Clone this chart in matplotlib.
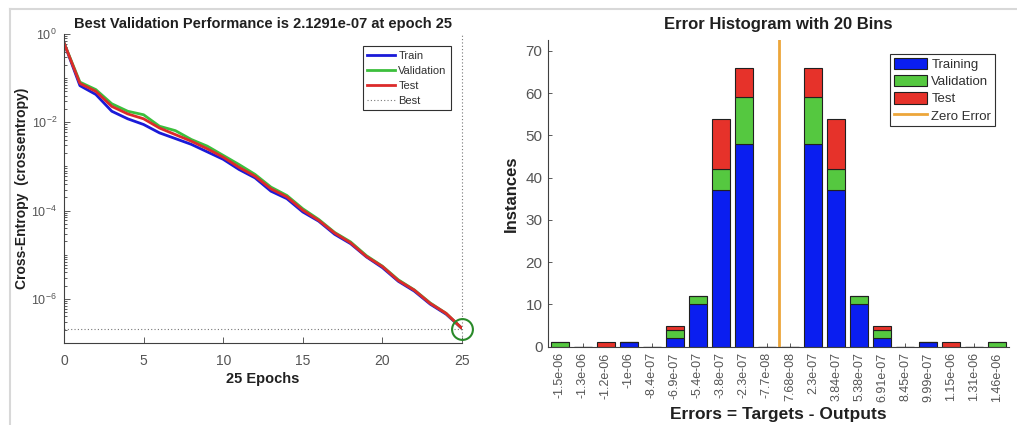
import matplotlib
matplotlib.use("Agg")
import matplotlib.pyplot as plt
import numpy as np
from matplotlib.ticker import LogLocator, NullFormatter
from matplotlib.lines import Line2D
from matplotlib.patches import Patch

plt.rcParams['font.family'] = ['Liberation Sans', 'DejaVu Sans']
plt.rcParams['mathtext.fontset'] = 'custom'
plt.rcParams['mathtext.rm'] = 'Liberation Sans'

# ---------------- data ----------------
epochs = list(range(26))
train_perf = [0.631, 0.0676, 0.0427, 0.0178, 0.0120, 0.00891, 0.00575, 0.00427, 0.00316,
              0.00214, 0.00145, 8.5e-4, 5.5e-4, 2.75e-4, 1.86e-4, 9.3e-5, 5.75e-5, 2.9e-5,
              1.78e-5, 8.9e-6, 5.1e-6, 2.5e-6, 1.5e-6, 7.6e-7, 4.5e-7, 2.14e-7]
val_perf = [0.631, 0.0813, 0.055, 0.0263, 0.0178, 0.0148, 0.00813, 0.00646, 0.00407,
            0.00288, 0.00178, 0.0011, 6.6e-4, 3.4e-4, 2.2e-4, 1.1e-4, 6.3e-5, 3.2e-5,
            1.95e-5, 9.5e-6, 5.5e-6, 2.7e-6, 1.6e-6, 8.1e-7, 4.7e-7, 2.1291e-7]
test_perf = [0.631, 0.0759, 0.0501, 0.0229, 0.0155, 0.0120, 0.00741, 0.00525, 0.00372,
             0.00251, 0.00162, 9.5e-4, 6.0e-4, 3.1e-4, 2.04e-4, 1.02e-4, 6.0e-5, 3.1e-5,
             1.86e-5, 9.1e-6, 5.4e-6, 2.6e-6, 1.58e-6, 7.9e-7, 4.7e-7, 2.14e-7]
best_epoch = 25
best_perf = 2.1291e-07

bin_labels = ['-1.5e-06', '-1.3e-06', '-1.2e-06', '-1e-06', '-8.4e-07', '-6.9e-07',
              '-5.4e-07', '-3.8e-07', '-2.3e-07', '-7.7e-08', '7.68e-08', '2.3e-07',
              '3.84e-07', '5.38e-07', '6.91e-07', '8.45e-07', '9.99e-07', '1.15e-06',
              '1.31e-06', '1.46e-06']
hist_train = [0, 0, 0, 1, 0, 2, 10, 37, 48, 0, 0, 48, 37, 10, 2, 0, 1, 0, 0, 0]
hist_val = [1, 0, 0, 0, 0, 2, 2, 5, 11, 0, 0, 11, 5, 2, 2, 0, 0, 0, 0, 1]
hist_test = [0, 0, 1, 0, 0, 1, 0, 12, 7, 0, 0, 7, 12, 0, 1, 0, 0, 1, 0, 0]

# ---------------- figure ----------------
fig = plt.figure(figsize=(10.17, 4.25), dpi=100)
fig.patch.set_facecolor('white')

# faint screenshot frame
fig.add_artist(Line2D([10/1017, 1.0], [1-9/425, 1-9/425], color='#d8d8d8', lw=1.5,
                      transform=fig.transFigure))
fig.add_artist(Line2D([10/1017, 10/1017], [0, 1-9/425], color='#d8d8d8', lw=1.5,
                      transform=fig.transFigure))

axis_col = '#404040'
tick_col = '#555555'
title_col = '#202020'

# ---------------- left: performance ----------------
ax1 = fig.add_axes([64/1017, 1-343/425, (462-64)/1017, (343-34)/425])
c_train = '#1a1ad8'
c_val = '#3cbf3c'
c_test = '#dc2a2a'
ax1.semilogy(epochs, train_perf, color=c_train, lw=2, label='Train')
ax1.semilogy(epochs, val_perf, color=c_val, lw=2, label='Validation')
ax1.semilogy(epochs, test_perf, color=c_test, lw=2, label='Test')
ax1.axhline(best_perf, color='#777777', lw=0.8, ls=(0, (1, 2)), label='Best')
ax1.axvline(best_epoch, color='#777777', lw=0.8, ls=(0, (1, 2)), clip_on=False)
ax1.plot([best_epoch], [best_perf], 'o', mfc='none', mec='#2a8a2a', ms=15, mew=1.5,
         clip_on=False)
ax1.set_xlim(0, 25)
ax1.set_ylim(1e-7, 1e0)
ax1.set_yticks([1e0, 1e-2, 1e-4, 1e-6])
ax1.yaxis.set_minor_locator(LogLocator(base=10, subs=np.arange(1, 10), numticks=20))
ax1.yaxis.set_minor_formatter(NullFormatter())
ax1.set_xticks([0, 5, 10, 15, 20, 25])
for s in ['top', 'right']:
    ax1.spines[s].set_visible(False)
for s in ['left', 'bottom']:
    ax1.spines[s].set_color(axis_col)
    ax1.spines[s].set_linewidth(0.8)
ax1.tick_params(which='both', direction='in', colors=axis_col, labelcolor=tick_col,
                width=0.6)
ax1.tick_params(axis='y', which='major', labelsize=9, pad=5)
ax1.tick_params(axis='x', which='major', labelsize=10, pad=8)
ax1.tick_params(which='major', length=4)
ax1.tick_params(which='minor', length=2)
ax1.set_title('Best Validation Performance is 2.1291e-07 at epoch 25', fontsize=10.5,
              fontweight='bold', color=title_col, pad=4)
ax1.set_xlabel('25 Epochs', fontsize=10.5, fontweight='bold', color=title_col, labelpad=3)
ax1.set_ylabel('Cross-Entropy  (crossentropy)', fontsize=10, fontweight='bold',
               color=title_col)
ax1.yaxis.set_label_coords(-0.088, 0.5)
leg1 = ax1.legend(loc='upper right', bbox_to_anchor=(0.973, 0.96), fontsize=8,
                  frameon=True, fancybox=False, edgecolor='#303030', framealpha=1,
                  handlelength=2.5, handletextpad=0.3, labelspacing=0.45,
                  borderpad=0.4, borderaxespad=0)
leg1.get_frame().set_linewidth(0.8)
for t in leg1.get_texts():
    t.set_color('#303030')

# ---------------- right: error histogram ----------------
ax2 = fig.add_axes([548/1017, 1-346.7/425, (1009-548)/1017, (346.7-40)/425])
ax2.set_axisbelow(True)
pos = np.arange(len(bin_labels))
c_btrain = '#0a1ef0'
c_bval = '#55c840'
c_btest = '#e6322a'
bw = 0.78
tr = np.array(hist_train)
va = np.array(hist_val)
te = np.array(hist_test)
ax2.bar(pos, tr, bw, color=c_btrain, edgecolor='#202020', linewidth=0.8, label='Training')
ax2.bar(pos, va, bw, bottom=tr, color=c_bval, edgecolor='#202020', linewidth=0.8,
        label='Validation')
ax2.bar(pos, te, bw, bottom=tr + va, color=c_btest, edgecolor='#202020', linewidth=0.8,
        label='Test')
centers = np.array([float(s) for s in bin_labels])
zero_pos = np.interp(0.0, centers, pos)
ax2.axvline(zero_pos, color='#eda63a', lw=2, label='Zero Error')
ax2.set_xlim(-0.5, 19.5)
ax2.set_ylim(0, 72.6)
ax2.set_yticks(range(0, 71, 10))
ax2.set_xticks(pos)
ax2.set_xticklabels(bin_labels, rotation=90, fontsize=9)
for s in ['top', 'right']:
    ax2.spines[s].set_visible(False)
for s in ['left', 'bottom']:
    ax2.spines[s].set_color(axis_col)
    ax2.spines[s].set_linewidth(0.8)
ax2.tick_params(direction='in', colors=axis_col, labelcolor=tick_col, length=3, width=0.6)
ax2.tick_params(axis='y', labelsize=11, pad=4)
ax2.tick_params(axis='x', pad=4)
ax2.set_title('Error Histogram with 20 Bins', fontsize=12, fontweight='bold',
              color=title_col, pad=8)
ax2.set_xlabel('Errors = Targets - Outputs', fontsize=12.5, fontweight='bold',
               color=title_col)
ax2.xaxis.set_label_coords(0.5, -0.195)
ax2.set_ylabel('Instances', fontsize=12, fontweight='bold', color=title_col)
ax2.yaxis.set_label_coords(-0.063, 0.5)
handles = [Patch(facecolor=c_btrain, edgecolor='#202020', lw=0.8),
           Patch(facecolor=c_bval, edgecolor='#202020', lw=0.8),
           Patch(facecolor=c_btest, edgecolor='#202020', lw=0.8),
           Line2D([0], [0], color='#eda63a', lw=2)]
leg2 = ax2.legend(handles, ['Training', 'Validation', 'Test', 'Zero Error'],
                  loc='upper right', bbox_to_anchor=(0.97, 0.955), fontsize=9.5,
                  frameon=True, fancybox=False, edgecolor='#303030', framealpha=1,
                  handlelength=2.5, handleheight=0.95, handletextpad=0.3,
                  labelspacing=0.3, borderpad=0.3, borderaxespad=0)
leg2.get_frame().set_linewidth(0.8)
for t in leg2.get_texts():
    t.set_color('#303030')

fig.savefig('out.png', dpi=100, facecolor='white')
